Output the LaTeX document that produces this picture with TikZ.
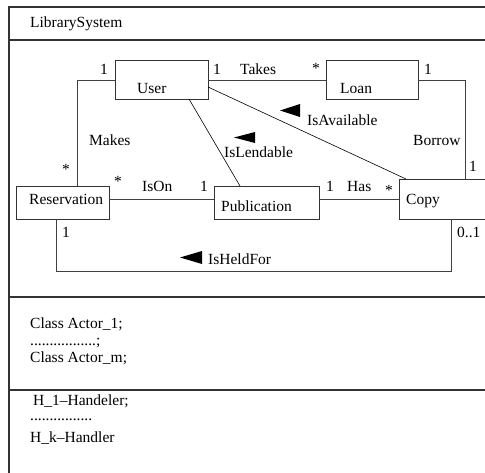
\documentclass[tikz,border=0pt]{standalone}
\usepackage{fontspec}
\setmainfont{Liberation Serif}
\begin{document}
\begin{tikzpicture}[x=1pt,y=-1pt,
  every node/.style={font=\fontsize{15.5}{18}\selectfont, inner sep=0pt, anchor=base west},
  frame/.style={draw=black!80, line width=1.1pt},
  cls/.style={draw=black!80, line width=0.9pt},
  conn/.style={draw=black!75, line width=0.9pt},
  thin/.style={draw=black, line width=0.6pt},
  tri/.style={fill=black},
  block/.style={anchor=north west, align=left, font=\fontsize{15.5}{15.5}\selectfont}]
\useasboundingbox (0,0) rectangle (485,473);
\clip (0,0) rectangle (485,473);
% frame
\draw[frame] (485,7) -- (9,7) -- (9,473);
\draw[frame] (9,40) -- (485,40);
\draw[frame] (9,297) -- (485,297);
\draw[frame] (9,390) -- (485,390);
\node (title) at (30,28) {LibrarySystem};
% class boxes
\draw[cls] (115,60) rectangle (208,99);
\node (usert) at (137,94) {User};
\draw[cls] (326,60) rectangle (418,99);
\node (loant) at (340,94) {Loan};
\draw[cls] (16,186) rectangle (109,219);
\node (rest) at (29,205) {Reservation};
\draw[cls] (214,186) rectangle (319,219);
\node (pubt) at (221,212) {Publication};
\draw[cls] (399,179) rectangle (495,219);
\node (copyt) at (406,205) {Copy};
% named anchor points
\coordinate (uL) at (115,80); \coordinate (uR) at (208,80);
\coordinate (lL) at (326,80); \coordinate (lR) at (418,80);
\coordinate (rT) at (77,186); \coordinate (rR) at (109,199); \coordinate (rB) at (56,219);
\coordinate (pL) at (214,199); \coordinate (pR) at (319,199); \coordinate (pT) at (240,186);
\coordinate (cL) at (399,199); \coordinate (cT) at (465,179); \coordinate (cB) at (451,219);
\coordinate (uB) at (189,99); \coordinate (uC) at (208,87); \coordinate (cTL) at (406,179);
\coordinate (heldturn) at (451,271);
% connectors
\draw[conn] (uR) -- (lL);
\draw[conn] (lR) -| (cT);
\draw[conn] (uL) -| (rT);
\draw[conn] (rR) -- (pL);
\draw[conn] (pR) -- (cL);
\draw[conn] (rB) |- (heldturn) -- (cB);
\draw[thin] (uB) -- (pT);
\draw[thin] (uC) -- (cTL);
% labels
\node (m1) at (100,75) {1};
\node (m2) at (213,75) {1};
\node (takes) at (240,75) {Takes};
\node (m3) at (312,74) {*};
\node (m4) at (424,75) {1};
\node (makes) at (89,146) {Makes};
\node (borrow) at (413,146) {Borrow};
\node (isav) at (307,126) {IsAvailable};
\node (islend) at (224,158) {IsLendable};
\node (m5) at (62,175) {*};
\node (m6) at (469,172) {1};
\node (m7) at (114,187) {*};
\node (ison) at (142,192) {IsOn};
\node (m8) at (200,192) {1};
\node (m9) at (326,192) {1};
\node (has) at (347,192) {Has};
\node (m10) at (385,196) {*};
\node (m11) at (62,238) {1};
\node (m12) at (457,238) {0..1};
\node (held) at (208,265) {IsHeldFor};
\fill[tri] (280,110.5) -- (300,104) -- (300,117) -- cycle;
\fill[tri] (234,137.5) -- (255,132) -- (255,143) -- cycle;
\fill[tri] (180,257.5) -- (202,251) -- (202,264) -- cycle;
% lower compartments
\node[block] (actors) at (30,317.5) {Class Actor\_1;\\[1.5pt].................;\\[1.5pt]Class Actor\_m;};
\node (h1) at (33,405) {H\_1–Handeler;};
\node (hdots) at (30,420) {................};
\node (hk) at (30,442) {H\_k–Handler};
\end{tikzpicture}
\end{document}
